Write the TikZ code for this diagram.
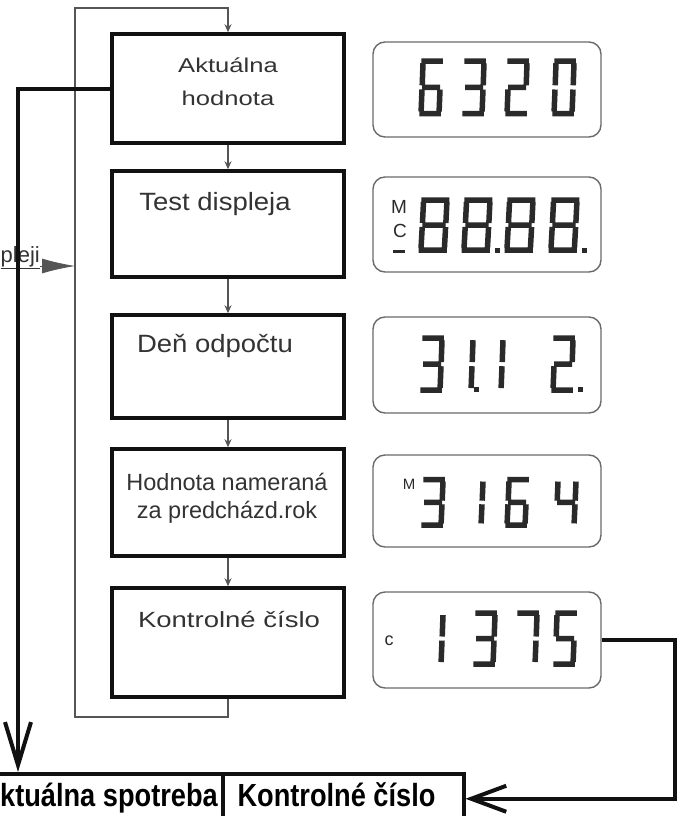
\documentclass[tikz,border=0pt]{standalone}
\usepackage{graphicx}
\usepackage{fontspec}
\setmainfont{Liberation Sans}
\usetikzlibrary{arrows.meta}
\definecolor{ink}{HTML}{111111}
\definecolor{txt}{HTML}{333333}
\definecolor{thin}{HTML}{555555}
\definecolor{lcdframe}{HTML}{6a6a6a}
\definecolor{segcol}{HTML}{2a2a2a}
% seven-segment pieces (local coords, y downwards, 24 x 56, slightly slanted)
\def\SA{(3.3,3)--(24.9,3)}
\def\SB{(23.0,5)--(22.2,26)}
\def\SC{(22.0,30)--(21.1,51)}
\def\SD{(1.3,53)--(22.9,53)}
\def\SE{(3.1,51)--(4.0,30)}
\def\SF{(4.2,26)--(5.0,5)}
\def\SG{(4.1,28)--(22.1,28)}
\newcommand\lcddigit[4][]{\begin{scope}[shift={(#2,#3)},#1]\draw[segline] #4;\end{scope}}
\tikzset{
  flowbox/.style={draw=ink, line width=3.5pt, minimum width=232pt, inner sep=0pt},
  lcdbox/.style={draw=lcdframe, line width=1.4pt, rounded corners=12pt, minimum width=228pt, inner sep=0pt},
  segline/.style={draw=segcol, line width=5.5pt, line cap=butt},
  thinline/.style={draw=thin, line width=1.3pt},
  bigline/.style={draw=ink, line width=4pt},
  boxtext/.style={text=txt, inner sep=0pt, anchor=base},
  celltext/.style={font=\fontsize{32}{34}\selectfont\bfseries, text=black, inner sep=0pt},
  cellbox/.style={draw=ink, line width=3.5pt, minimum width=241pt, minimum height=50pt, inner sep=0pt, anchor=north west},
  smallarrow/.style={-{Stealth[length=8pt,width=7pt]}}
}
\begin{document}
\begin{tikzpicture}[x=1pt,y=-1pt]
\useasboundingbox (0,0) rectangle (684,816);
\clip (0,0) rectangle (684,816);

% flow boxes
\node[flowbox, minimum height=109pt] (b1) at (228,88.5) {};
\node[flowbox, minimum height=106pt] (b2) at (228,224) {};
\node[flowbox, minimum height=103pt] (b3) at (228,366.5) {};
\node[flowbox, minimum height=107pt] (b4) at (228,502.5) {};
\node[flowbox, minimum height=109pt] (b5) at (228,642.5) {};

\node[boxtext, font=\fontsize{20}{24}\selectfont] (t1a) at (228,73) {\scalebox{1.28}[1]{Aktuálna}};
\node[boxtext, font=\fontsize{20}{24}\selectfont] (t1b) at (228,105) {\scalebox{1.28}[1]{hodnota}};
\node[boxtext, font=\fontsize{25}{28}\selectfont] (t2) at (215,210) {\scalebox{1.1}[1]{Test displeja}};
\node[boxtext, font=\fontsize{25}{28}\selectfont] (t3) at (215,352) {\scalebox{1.1}[1]{Deň odpočtu}};
\node[boxtext, font=\fontsize{23.5}{26}\selectfont] (t4a) at (227,490) {Hodnota nameraná};
\node[boxtext, font=\fontsize{23.5}{26}\selectfont] (t4b) at (227,518) {za predcházd.rok};
\node[boxtext, font=\fontsize{22}{26}\selectfont] (t5) at (229,627) {\scalebox{1.25}[1]{Kontrolné číslo}};

% thin loop and step arrows
\coordinate (lb) at (75,717);
\coordinate (ltop) at (75,8);
\draw[thinline, smallarrow] (b5.south) |- (lb) -- (ltop) -| (b1.north);
\draw[thinline, smallarrow] (b1) -- (b2);
\draw[thinline, smallarrow] (b2) -- (b3);
\draw[thinline, smallarrow] (b3) -- (b4);
\draw[thinline, smallarrow] (b4) -- (b5);

% displays
\node[lcdbox, minimum height=95pt] (d1) at (487,89.5) {};
\node[lcdbox, minimum height=95pt] (d2) at (487,224.5) {};
\node[lcdbox, minimum height=96pt] (d3) at (487,365) {};
\node[lcdbox, minimum height=92pt] (d4) at (487,501) {};
\node[lcdbox, minimum height=96pt] (d5) at (487,640) {};

% 6320
\lcddigit[yscale=1.05]{418}{58}{\SA\SF\SG\SE\SD\SC}
\lcddigit[yscale=1.05]{461}{58}{\SA\SB\SG\SC\SD}
\lcddigit[yscale=1.05]{504}{58}{\SA\SB\SG\SE\SD}
\lcddigit[yscale=1.05]{551}{58}{\SA\SB\SC\SD\SE\SF}
% MC 88.88.
\node[font=\fontsize{19}{20}\selectfont, text=segcol, inner sep=0pt] (dm) at (399,207) {M};
\node[font=\fontsize{19}{20}\selectfont, text=segcol, inner sep=0pt] (dc) at (400,231) {C};
\draw[draw=segcol, line width=3pt] (393,251) -- (405,251);
\lcddigit[xscale=1.3]{417}{197}{\SA\SB\SC\SD\SE\SF\SG}
\lcddigit[xscale=1.3]{460}{197}{\SA\SB\SC\SD\SE\SF\SG}
\lcddigit[xscale=1.3]{503}{197}{\SA\SB\SC\SD\SE\SF\SG}
\lcddigit[xscale=1.3]{547}{197}{\SA\SB\SC\SD\SE\SF\SG}
\fill[segcol] (495,248) rectangle ++(5,5);
\fill[segcol] (582,248) rectangle ++(5,5);
% 31.12.
\lcddigit[yscale=1.04]{419}{335}{\SA\SB\SG\SC\SD}
\lcddigit[yscale=1.04]{450}{335}{\SB\SC}
\fill[segcol] (474,387) rectangle ++(5,5);
\lcddigit[yscale=1.04]{480}{335}{\SB\SC}
\lcddigit[yscale=1.04]{550}{335}{\SA\SB\SG\SE\SD}
\fill[segcol] (578,387) rectangle ++(5,5);
% M3164
\node[font=\fontsize{15}{16}\selectfont, text=segcol, inner sep=0pt] (dm4) at (409,484) {M};
\lcddigit[yscale=0.91]{420}{477}{\SA\SB\SG\SC\SD}
\lcddigit[yscale=0.91]{460}{477}{\SB\SC}
\lcddigit[yscale=0.91]{504}{477}{\SA\SF\SG\SE\SD\SC}
\lcddigit[yscale=0.91]{553}{477}{\SF\SG\SB\SC}
% c 1375
\node[font=\fontsize{18}{20}\selectfont, text=segcol, inner sep=0pt] (dc5) at (389,641) {c};
\lcddigit[yscale=1.02]{420}{610}{\SB\SC}
\lcddigit[yscale=1.02]{472}{610}{\SA\SB\SG\SC\SD}
\lcddigit[yscale=1.02]{514}{610}{\SA\SB\SC}
\lcddigit[yscale=1.02]{552}{610}{\SA\SF\SG\SC\SD}

% bottom cells
\node[cellbox] (cA) at (-20,772) {};
\node[cellbox] (cB) at (221,772) {};
\node[celltext, anchor=base east] (ctA) at (218,806) {\scalebox{0.85}[1]{ktuálna spotreba}};
\node[celltext, anchor=base] (ctB) at (336.5,806) {\scalebox{0.85}[1]{Kontrolné číslo}};

% pleji label with arrow
\node[font=\fontsize{22}{24}\selectfont, text=txt, anchor=base east, inner sep=0pt] (pl) at (40,262) {\underline{pleji}};
\coordinate (la) at (75,266);
\draw[draw=thin, fill=thin, line width=0.8pt, -{Latex[length=33pt,width=15pt]}] (pl.east |- la) -- (la);

% thick connectors
\coordinate (lx) at (18,0);
\coordinate (rx) at (675,0);
\draw[bigline, -{Straight Barb[length=43pt,width=26pt]}] (b1.west) -| (cA.north -| lx);
\draw[bigline, -{Straight Barb[length=35pt,width=26pt]}] (d5.east) -| (cB.east -| rx) -- (cB.east);
\end{tikzpicture}
\end{document}
